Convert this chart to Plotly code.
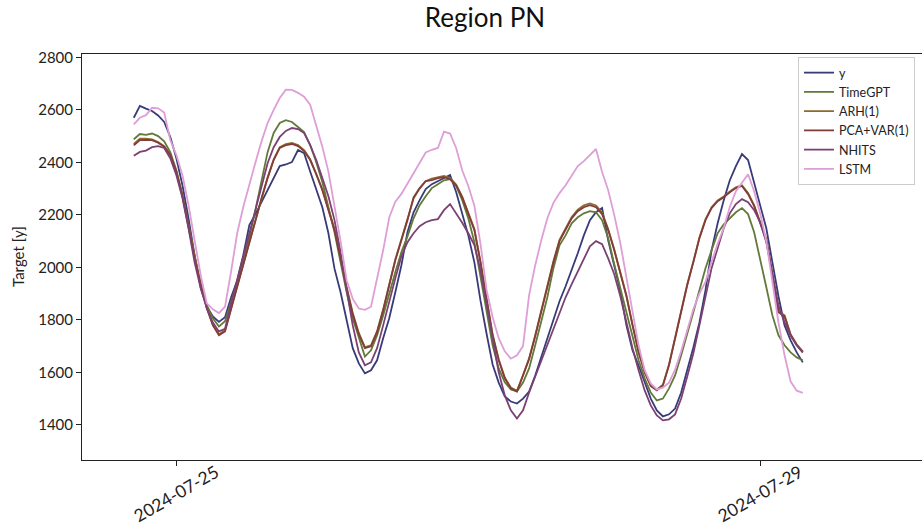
import pandas as pd
import plotly.graph_objects as go

# hourly timestamps
start_time = "2024-07-24 17:00"
n_points = 111
timestamps = pd.date_range(start_time, periods=n_points, freq="h")

y_actual = [2570, 2615, 2605, 2596, 2579, 2554, 2497, 2416, 2313, 2187,
            2045, 1922, 1851, 1813, 1792, 1810, 1886, 1950, 2046, 2161,
            2203, 2249, 2294, 2344, 2386, 2392, 2401, 2447, 2435, 2365,
            2299, 2229, 2130, 1995, 1905, 1798, 1692, 1634, 1596, 1608,
            1646, 1730, 1806, 1905, 2008, 2134, 2210, 2256, 2298, 2317,
            2329, 2340, 2352, 2287, 2206, 2122, 2019, 1874, 1748, 1630,
            1561, 1508, 1489, 1481, 1500, 1527, 1588, 1661, 1726, 1798,
            1871, 1928, 1989, 2054, 2122, 2180, 2210, 2226, 2103, 2004,
            1909, 1779, 1684, 1626, 1562, 1500, 1455, 1432, 1440, 1462,
            1523, 1607, 1695, 1790, 1913, 2065, 2168, 2256, 2332, 2386,
            2432, 2409, 2321, 2226, 2149, 2019, 1890, 1779, 1722, 1676, 1638]

timegpt = [2488, 2508, 2505, 2510, 2500, 2480, 2439, 2370, 2275, 2161,
           2035, 1932, 1856, 1806, 1775, 1795, 1867, 1943, 2030, 2115,
           2219, 2336, 2439, 2512, 2550, 2561, 2554, 2535, 2516, 2466,
           2401, 2325, 2233, 2134, 2019, 1905, 1806, 1729, 1660, 1684,
           1741, 1817, 1901, 1981, 2058, 2118, 2187, 2237, 2271, 2302,
           2317, 2332, 2336, 2310, 2256, 2187, 2096, 1970, 1829, 1703,
           1615, 1562, 1535, 1527, 1561, 1615, 1703, 1798, 1886, 1997,
           2084, 2122, 2168, 2191, 2206, 2214, 2210, 2180, 2111, 2012,
           1920, 1829, 1737, 1646, 1577, 1523, 1493, 1500, 1539, 1588,
           1665, 1752, 1829, 1913, 1997, 2065, 2130, 2164, 2187, 2210,
           2226, 2203, 2134, 2034, 1924, 1817, 1741, 1703, 1676, 1657, 1646]

arh1 = [2470, 2490, 2490, 2488, 2478, 2462, 2430, 2365, 2275, 2160,
        2040, 1940, 1848, 1782, 1745, 1760, 1840, 1930, 2012, 2095,
        2180, 2266, 2343, 2412, 2458, 2470, 2474, 2466, 2447, 2412,
        2358, 2298, 2222, 2146, 2040, 1925, 1826, 1750, 1696, 1703,
        1757, 1840, 1935, 2030, 2107, 2184, 2262, 2300, 2328, 2338,
        2344, 2348, 2340, 2316, 2270, 2210, 2146, 2023, 1878, 1745,
        1650, 1580, 1542, 1530, 1590, 1654, 1741, 1836, 1940, 2024,
        2105, 2150, 2192, 2220, 2236, 2244, 2236, 2208, 2146, 2068,
        1985, 1894, 1783, 1680, 1604, 1551, 1535, 1553, 1630, 1733,
        1840, 1936, 2022, 2114, 2183, 2229, 2255, 2270, 2289, 2305,
        2313, 2283, 2237, 2176, 2107, 1974, 1833, 1817, 1745, 1707, 1680]

pca_var1 = [2465, 2485, 2486, 2485, 2475, 2460, 2428, 2363, 2271, 2157,
            2035, 1936, 1844, 1779, 1741, 1756, 1841, 1928, 2008, 2092,
            2176, 2263, 2340, 2409, 2455, 2466, 2470, 2462, 2443, 2409,
            2355, 2294, 2218, 2142, 2035, 1920, 1821, 1745, 1692, 1699,
            1753, 1836, 1932, 2027, 2103, 2180, 2267, 2302, 2329, 2332,
            2340, 2344, 2336, 2313, 2267, 2206, 2142, 2019, 1874, 1741,
            1646, 1577, 1539, 1527, 1588, 1650, 1737, 1832, 1936, 2019,
            2100, 2145, 2187, 2214, 2229, 2237, 2229, 2203, 2142, 2065,
            1981, 1890, 1779, 1676, 1600, 1547, 1531, 1550, 1627, 1730,
            1836, 1932, 2019, 2111, 2180, 2226, 2252, 2267, 2286, 2302,
            2310, 2279, 2233, 2172, 2103, 1970, 1829, 1813, 1741, 1703, 1676]

nhits = [2425, 2440, 2445, 2458, 2462, 2455, 2416, 2351, 2264, 2149,
         2019, 1920, 1844, 1790, 1756, 1766, 1863, 1951, 2042, 2134,
         2226, 2313, 2397, 2458, 2497, 2520, 2531, 2527, 2512, 2466,
         2409, 2340, 2271, 2180, 2058, 1913, 1779, 1676, 1627, 1638,
         1692, 1779, 1874, 1958, 2042, 2096, 2130, 2157, 2172, 2180,
         2184, 2218, 2241, 2206, 2170, 2130, 2085, 1989, 1855, 1722,
         1600, 1512, 1455, 1424, 1455, 1523, 1584, 1646, 1711, 1772,
         1832, 1886, 1936, 1985, 2034, 2080, 2100, 2088, 2034, 1974,
         1890, 1790, 1692, 1608, 1531, 1474, 1436, 1417, 1421, 1440,
         1500, 1584, 1672, 1779, 1890, 1997, 2073, 2149, 2206, 2241,
         2260, 2248, 2218, 2172, 2096, 1970, 1855, 1790, 1741, 1703, 1676]

lstm = [2545, 2570, 2580, 2608, 2606, 2590, 2485, 2428, 2351, 2237,
        2103, 1970, 1863, 1840, 1826, 1850, 1985, 2130, 2230, 2320,
        2400, 2480, 2550, 2600, 2645, 2677, 2676, 2665, 2650, 2620,
        2540, 2460, 2365, 2240, 2100, 1951, 1880, 1843, 1838, 1850,
        1960, 2065, 2190, 2250, 2280, 2320, 2358, 2400, 2438, 2448,
        2455, 2517, 2510, 2455, 2370, 2310, 2235, 2090, 1915, 1810,
        1730, 1680, 1652, 1665, 1700, 1894, 2008, 2103, 2187, 2246,
        2283, 2313, 2351, 2386, 2405, 2428, 2451, 2363, 2294, 2199,
        2092, 1962, 1825, 1703, 1608, 1558, 1535, 1542, 1561, 1610,
        1680, 1760, 1840, 1900, 1945, 2020, 2090, 2150, 2230, 2290,
        2325, 2355, 2290, 2205, 2100, 1950, 1790, 1665, 1565, 1530, 1522]

series_names = ["y", "TimeGPT", "ARH(1)", "PCA+VAR(1)", "NHITS", "LSTM"]
series_values = [y_actual, timegpt, arh1, pca_var1, nhits, lstm]
series_colors = ["#393b79", "#637939", "#8c6d31", "#843c39", "#7b4173", "#de9ed6"]

x_tick_vals = ["2024-07-25", "2024-07-29"]
x_tick_text = ["2024-07-25", "2024-07-29"]
y_tick_vals = [1400, 1600, 1800, 2000, 2200, 2400, 2600, 2800]

FONT = "Lato, 'Open Sans', sans-serif"

W, H = 922, 529

fig = go.Figure()
for name, vals, col in zip(series_names, series_values, series_colors):
    fig.add_trace(go.Scatter(x=timestamps, y=vals, mode="lines", name=name,
                             line=dict(color=col, width=1.8)))

# rotated date labels centred under their ticks (as matplotlib does)
annotations = [dict(text=t, x=v, xref="x", y=-0.0825, yref="paper",
                    xanchor="center", yanchor="middle", textangle=-30,
                    showarrow=False, font=dict(family=FONT, size=17.5, color="#222"))
               for v, t in zip(x_tick_vals, x_tick_text)]
annotations.append(dict(text="Target [y]", xref="paper", yref="paper",
                        x=(18 - 82) / 840, y=0.5, xanchor="center", yanchor="middle",
                        textangle=-90, showarrow=False,
                        font=dict(family=FONT, size=15, color="#222")))

fig.update_layout(
    width=W, height=H,
    margin=dict(l=82, r=0, t=54, b=69, autoexpand=False),
    paper_bgcolor="white", plot_bgcolor="white",
    font=dict(family=FONT, size=13, color="#222"),
    title=dict(text="Region PN", font=dict(family=FONT, size=26, color="#111"),
               x=485 / W, xref="container", xanchor="center",
               y=1 - 18 / H, yref="container", yanchor="middle"),
    showlegend=True,
    legend=dict(x=(798 - 82) / 840, y=(460 - 57) / 406, xanchor="left", yanchor="top",
                bgcolor="white", bordercolor="#cccccc", borderwidth=1,
                font=dict(family=FONT, size=12.5, color="#222"),
                tracegroupgap=0),
    xaxis=dict(range=["2024-07-24 08:29", "2024-07-30 02:36"],
               tickmode="array", tickvals=x_tick_vals, ticktext=["", ""],
               ticks="outside", ticklen=5, tickcolor="#222",
               showline=True, linecolor="#222", linewidth=1, mirror=True,
               showgrid=False, zeroline=False, automargin=False),
    yaxis=dict(range=[1266, 2813], tickmode="array", tickvals=y_tick_vals,
               ticks="outside", ticklen=5, tickcolor="#222",
               showline=True, linecolor="#222", linewidth=1,
               showgrid=False, zeroline=False, automargin=False,
               tickfont=dict(family=FONT, size=15, color="#222")),
    annotations=annotations,
)

# remove the browser's default 8px body margin so the figure fills the window
fig.write_html("out.html",
               config={"displayModeBar": False},
               post_script="document.body.style.margin='0px';document.body.style.overflow='hidden';")
